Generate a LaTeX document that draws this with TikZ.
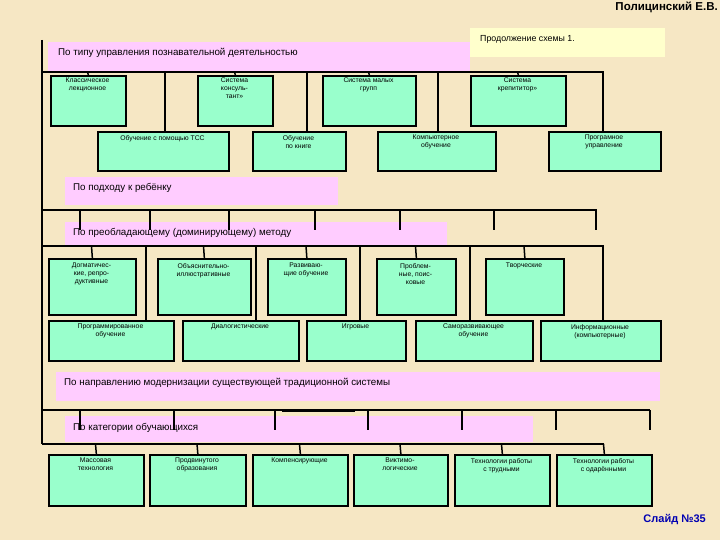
\documentclass[tikz,border=0pt]{standalone}
\usepackage{fontspec}
\setmainfont{Liberation Sans}
\begin{document}
\begin{tikzpicture}[x=1pt,y=-1pt,
  bx/.style={draw=black,line width=1.7pt,fill=boxg,inner sep=0pt},
  bt/.style={font=\fontsize{6.8}{8}\selectfont,align=center,anchor=north,inner sep=0pt},
  band/.style={fill=pinkb,draw=none},
  bl/.style={font=\fontsize{9.8}{11}\selectfont,anchor=west,inner sep=0pt},
  bus/.style={line width=2.6pt},
  ln/.style={line width=1.5pt}]
\definecolor{bg}{HTML}{F6E7C4}
\definecolor{boxg}{HTML}{99FFCC}
\definecolor{pinkb}{HTML}{FFCCFF}
\definecolor{yel}{HTML}{FFFFCC}
\useasboundingbox (0,0) rectangle (720,540);
\fill[bg] (0,0) rectangle (720,540);
\node[font=\bfseries\fontsize{11.5}{12}\selectfont,anchor=north east,inner sep=0pt] (auth) at (718,2) {Полицинский Е.В.};
\node[font=\bfseries\fontsize{11}{12}\selectfont,text=blue!70!black,anchor=east,inner sep=0pt] (slide) at (706,519) {Слайд №35};
\node[fill=yel,minimum width=195pt,minimum height=29pt,anchor=north west,inner sep=0pt] (cont) at (470,28) {};
\node[font=\fontsize{8.8}{10}\selectfont,anchor=west,inner sep=0pt] at (480,39) {Продолжение схемы 1.};
\fill[band] (48,42) rectangle (470,72);
\node[bl] (l1) at (58,53) {По типу управления познавательной деятельностью};
\fill[band] (65,177) rectangle (338,205);
\node[bl] (l2) at (73,188) {По подходу к ребёнку};
\fill[band] (65,222) rectangle (447,245);
\node[bl] (l3) at (73,233) {По преобладающему (доминирующему) методу};
\fill[band] (56,372) rectangle (660,401);
\node[bl] (l4) at (64,383) {По направлению модернизации существующей традиционной системы};
\fill[band] (65,416) rectangle (533,442);
\node[bl] (l5) at (73,428) {По категории обучающихся};
\coordinate (s0) at (42,40);
\coordinate (s1) at (42,444);
\draw[ln] (s0) -- (s1);
\draw[bus] (42,72) -- (604,72);
\draw[ln] (42,210) -- (597,210);
\draw[bus] (42,246) -- (604,246);
\draw[ln] (42,410) -- (650,410);
\draw[ln] (282,411) -- (355,411);
\draw[bus] (42,444) -- (604,444);
\foreach \n/\xa/\xb/\t in {a1/50/125/{Классическое\\лекционное},a2/197/272/{Система\\консуль-\\тант»},a3/322/415/{Система малых\\групп},a4/470/565/{Система\\крепититор»}}{
  \node[bx,anchor=north west,minimum width={\xb-\xa},minimum height=50pt] (\n) at (\xa,75) {};
  \node[bt] at ({(\xa+\xb)/2},78) {\t};
  \draw[ln] ({(\xa+\xb)/2},72) -- (\n.north);
}
\foreach \n/\xa/\xb/\t in {b1/97/228/{Обучение с помощью ТСС},b2/252/345/{Обучение\\по книге},b3/377/495/{Компьютерное\\обучение},b4/548/660/{Програмное\\управление}}{
  \node[bx,anchor=north west,minimum width={\xb-\xa},minimum height=39pt] (\n) at (\xa,131) {};
  \node[bt] at ({(\xa+\xb)/2},135) {\t};
}
\foreach \x in {165,307,438,603}{\coordinate (d\x) at (\x,131); \draw[ln] (\x,72) -- (d\x);}
\foreach \x in {80,150,229,315,400,494,596}{\coordinate (t\x) at (\x,230); \draw[ln] (\x,210) -- (t\x);}
\foreach \n/\xa/\xb/\t in {c1/48/135/{Догматичес-\\кие, репро-\\дуктивные},c2/157/250/{Объяснительно-\\иллюстративные},c3/267/345/{Развиваю-\\щие обучение},c4/376/455/{Проблем-\\ные, поис-\\ковые},c5/485/563/{Творческие}}{
  \node[bx,anchor=north west,minimum width={\xb-\xa},minimum height=56pt] (\n) at (\xa,258) {};
  \node[bt] at ({(\xa+\xb)/2},263) {\t};
  \draw[ln] ({(\xa+\xb)/2},246) -- (\n.north);
}
\foreach \n/\xa/\xb/\t in {e1/48/173/{Программированное\\обучение},e2/182/298/{Диалогистические},e3/306/405/{Игровые},e4/415/532/{Саморазвивающее\\обучение},e5/540/660/{Информационные\\(компьютерные)}}{
  \node[bx,anchor=north west,minimum width={\xb-\xa},minimum height=40pt] (\n) at (\xa,320) {};
  \node[bt] at ({(\xa+\xb)/2},324) {\t};
}
\foreach \x in {146,256,360,470,603}{\coordinate (f\x) at (\x,320); \draw[ln] (\x,246) -- (f\x);}
\foreach \x in {80,174,275,368,462,556,650}{\coordinate (u\x) at (\x,430); \draw[ln] (\x,410) -- (u\x);}
\foreach \n/\xa/\xb/\t in {g1/48/143/{Массовая\\технология},g2/149/245/{Продвинутого\\образования},g3/252/347/{Компенсирующие},g4/353/447/{Виктимо-\\логические},g5/454/549/{Технологии работы\\с трудными},g6/556/651/{Технологии работы\\с одарёнными}}{
  \node[bx,anchor=north west,minimum width={\xb-\xa},minimum height=51pt] (\n) at (\xa,454) {};
  \node[bt] at ({(\xa+\xb)/2},458) {\t};
  \draw[ln] ({(\xa+\xb)/2},444) -- (\n.north);
}
\end{tikzpicture}
\end{document}
